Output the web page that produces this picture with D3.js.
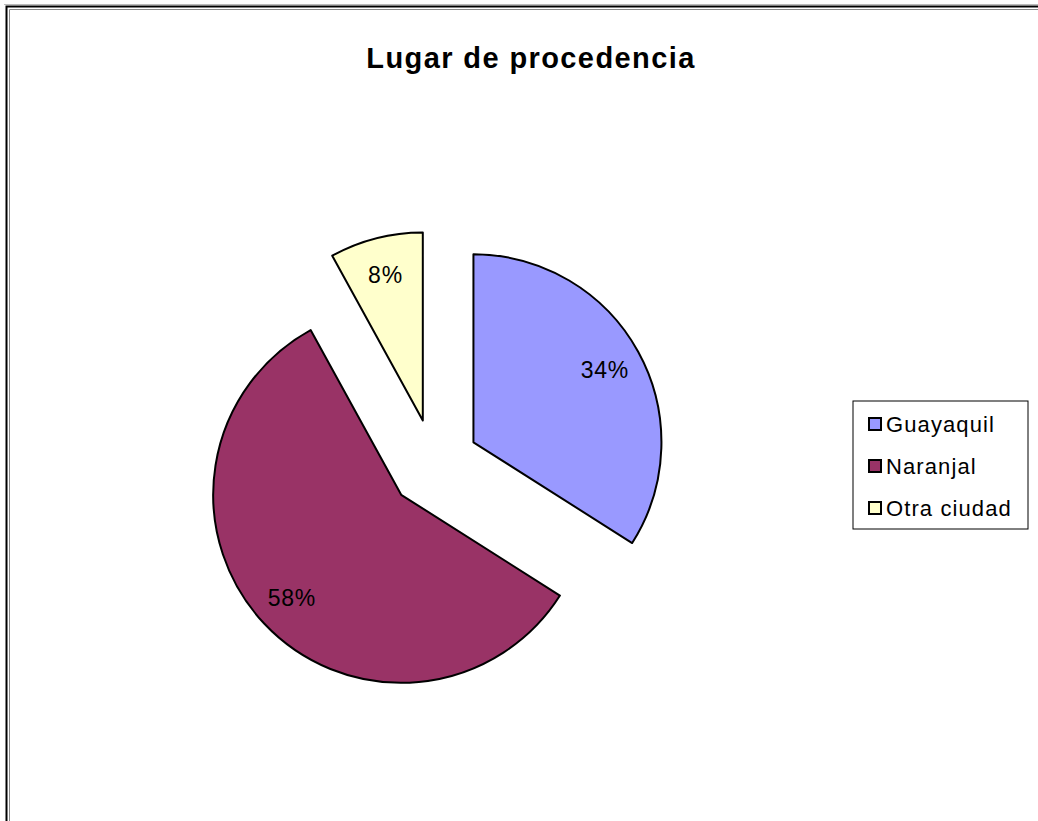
<!DOCTYPE html>
<html>
<head>
<meta charset="utf-8">
<script src="https://cdn.jsdelivr.net/npm/d3@7"></script>
<style>
  body { margin: 0; background: #fff; }
  svg { display: block; font-family: 'Liberation Sans', Arial, sans-serif; }
</style>
</head>
<body>
<svg id="chart" width="1038" height="821"></svg>
<script>
// data
const categories = ['Guayaquil', 'Naranjal', 'Otra ciudad']
const values = [34, 58, 8]
const colors = ['#9999ff', '#993366', '#ffffcc']

const width = 1038, height = 821
const svg = d3.select('#chart')

// frame (double line, like the spreadsheet export)
svg.append('line').attr('x1', 4).attr('x2', width).attr('y1', 4.5).attr('y2', 4.5)
  .attr('stroke', '#bbb').attr('stroke-width', 1)
svg.append('path').attr('d', `M6.5,${height} V6.5 H${width}`)
  .attr('fill', 'none').attr('stroke', '#000').attr('stroke-width', 2)
svg.append('path').attr('d', `M9.5,${height} V9.5 H${width}`)
  .attr('fill', 'none').attr('stroke', '#888').attr('stroke-width', 1)

// title
svg.append('text')
  .attr('x', 531).attr('y', 68)
  .attr('text-anchor', 'middle')
  .style('font-size', '29px').style('font-weight', 'bold')
  .style('letter-spacing', '1.4px')
  .text('Lugar de procedencia')

// pie
const cx = 434, cy = 464, r = 188, explode = 45, labelR = 150
const pie = d3.pie().sort(null).value(d => d.value)
const arc = d3.arc().innerRadius(0).outerRadius(r)
const data = categories.map((c, i) => ({ name: c, value: values[i], color: colors[i] }))
const total = d3.sum(values)

const g = svg.append('g').attr('transform', `translate(${cx},${cy})`)
const slices = g.selectAll('g.slice').data(pie(data)).enter()
  .append('g')
    .attr('class', 'slice')
    .attr('transform', d => {
      const a = (d.startAngle + d.endAngle) / 2
      return `translate(${explode * Math.sin(a)},${-explode * Math.cos(a)})`
    })

slices.append('path')
  .attr('d', arc)
  .attr('fill', d => d.data.color)
  .attr('stroke', '#000')
  .attr('stroke-width', 2)
  .attr('stroke-linejoin', 'round')

slices.append('text')
  .attr('x', d => labelR * Math.sin((d.startAngle + d.endAngle) / 2))
  .attr('y', d => -labelR * Math.cos((d.startAngle + d.endAngle) / 2))
  .attr('dy', '0.35em')
  .attr('text-anchor', 'middle')
  .style('font-size', '23px')
  .style('letter-spacing', '0.8px')
  .text(d => Math.round(d.data.value / total * 100) + '%')

// legend
const legend = svg.append('g').attr('transform', 'translate(853,401)')
legend.append('rect')
  .attr('width', 175).attr('height', 128)
  .attr('fill', '#fff').attr('stroke', '#000').attr('stroke-width', 1)

const item = legend.selectAll('g.item').data(data).enter()
  .append('g')
    .attr('class', 'item')
    .attr('transform', (d, i) => `translate(0,${23 + i * 42})`)
item.append('rect')
  .attr('x', 16).attr('y', -6)
  .attr('width', 12).attr('height', 12)
  .attr('fill', d => d.color)
  .attr('stroke', '#000').attr('stroke-width', 2)
item.append('text')
  .attr('x', 33).attr('dy', '0.36em')
  .style('font-size', '22px')
  .style('letter-spacing', '1.1px')
  .text(d => d.name)
</script>
</body>
</html>
